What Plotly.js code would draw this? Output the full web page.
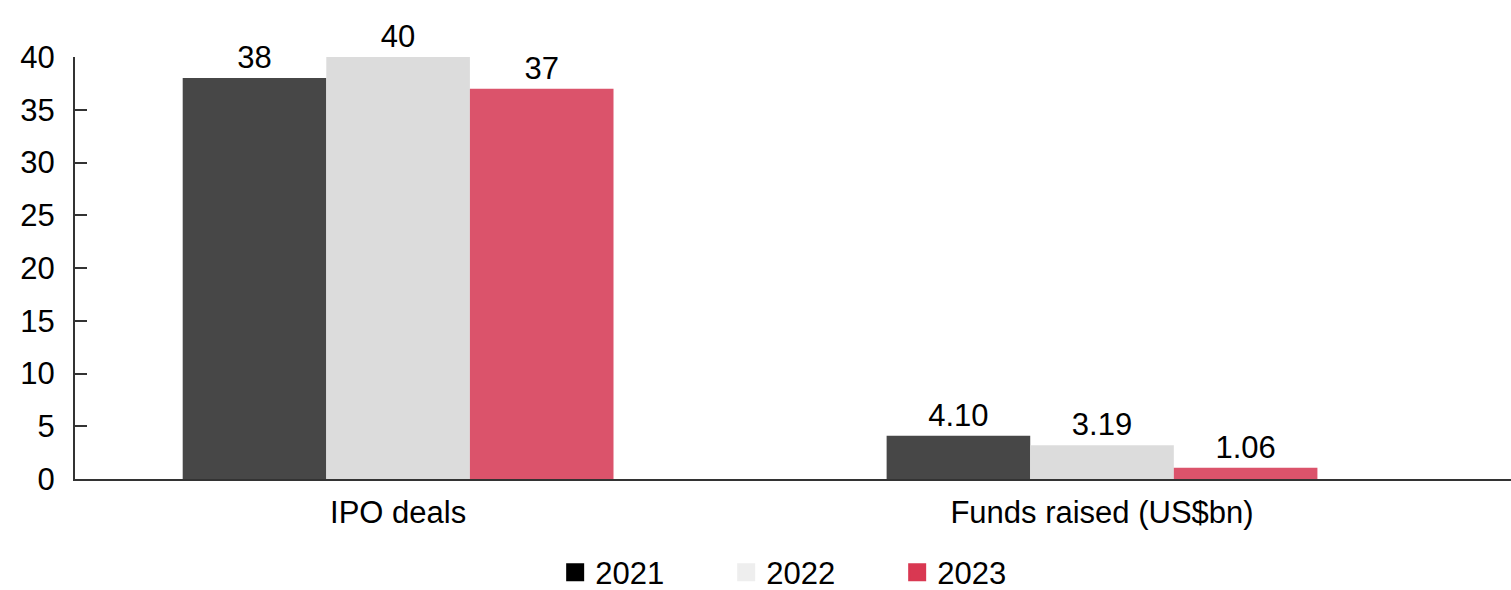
<!DOCTYPE html>
<html>
<head>
<meta charset="utf-8">
<script src="https://cdn.plot.ly/plotly-3.0.1.min.js"></script>
<style>
  html, body { margin: 0; padding: 0; background: #ffffff; }
  #chart { width: 1511px; height: 590px; }
</style>
</head>
<body>
<div id="chart"></div>
<script>
// ---- data ----
const categories = ["IPO deals", "Funds raised (US$bn)"];
const years = ["2021", "2022", "2023"];
const values2021 = [38, 4.10];
const values2022 = [40, 3.19];
const values2023 = [37, 1.06];
const labels2021 = ["38", "4.10"];
const labels2022 = ["40", "3.19"];
const labels2023 = ["37", "1.06"];

// ---- style ----
const FONT = "Liberation Sans, Arial, sans-serif";
const FS = 31;
const barColors = ["#474747", "#dcdcdc", "#db536b"];
const legendColors = ["#000000", "#eeeeee", "#d93852"];

const seriesValues = [values2021, values2022, values2023];
const seriesLabels = [labels2021, labels2022, labels2023];

const traces = [];
years.forEach((yr, i) => {
  traces.push({
    type: "bar",
    name: yr,
    x: categories,
    y: seriesValues[i],
    text: seriesLabels[i],
    textposition: "outside",
    textfont: { family: FONT, size: FS, color: "#000000" },
    cliponaxis: false,
    marker: { color: barColors[i], line: { width: 0 } },
    showlegend: false,
    hoverinfo: "skip"
  });
});
// legend entries (drawn on a hidden axis pair)
years.forEach((yr, i) => {
  traces.push({
    type: "scatter",
    mode: "markers",
    name: yr,
    x: [null],
    y: [null],
    xaxis: "x2",
    yaxis: "y2",
    marker: { symbol: "square", size: 16, color: legendColors[i], line: { width: 2, color: legendColors[i] } },
    showlegend: true
  });
});

const layout = {
  width: 1511,
  height: 590,
  margin: { l: 75, r: 0, t: 57, b: 111, autoexpand: false },
  paper_bgcolor: "#ffffff",
  plot_bgcolor: "#ffffff",
  font: { family: FONT, size: FS, color: "#000000" },
  barmode: "group",
  bargap: 0.388,
  bargroupgap: 0,
  xaxis: {
    type: "category",
    range: [-0.459, 1.581],
    showline: true,
    linecolor: "#333333",
    linewidth: 2,
    ticks: "",
    showgrid: false,
    zeroline: false,
    tickfont: { family: FONT, size: FS, color: "#000000" },
    ticklabelstandoff: 5
  },
  yaxis: {
    range: [0, 40],
    tickvals: [0, 5, 10, 15, 20, 25, 30, 35, 40],
    showline: true,
    linecolor: "#333333",
    linewidth: 2,
    ticks: "inside",
    ticklen: 12,
    tickwidth: 2,
    tickcolor: "#333333",
    showgrid: false,
    zeroline: false,
    tickfont: { family: FONT, size: FS, color: "#000000" },
    ticklabelstandoff: 12
  },
  xaxis2: { visible: false, overlaying: "x", range: [0, 1] },
  yaxis2: { visible: false, overlaying: "y", range: [0, 1] },
  showlegend: true,
  legend: {
    orientation: "h",
    x: 0.513,
    xanchor: "center",
    y: -0.158,
    yanchor: "top",
    font: { family: FONT, size: FS, color: "#000000" },
    itemclick: false,
    itemdoubleclick: false,
    entrywidth: 126
  }
};

Plotly.newPlot("chart", traces, layout, { staticPlot: true, displayModeBar: false });
</script>
</body>
</html>
